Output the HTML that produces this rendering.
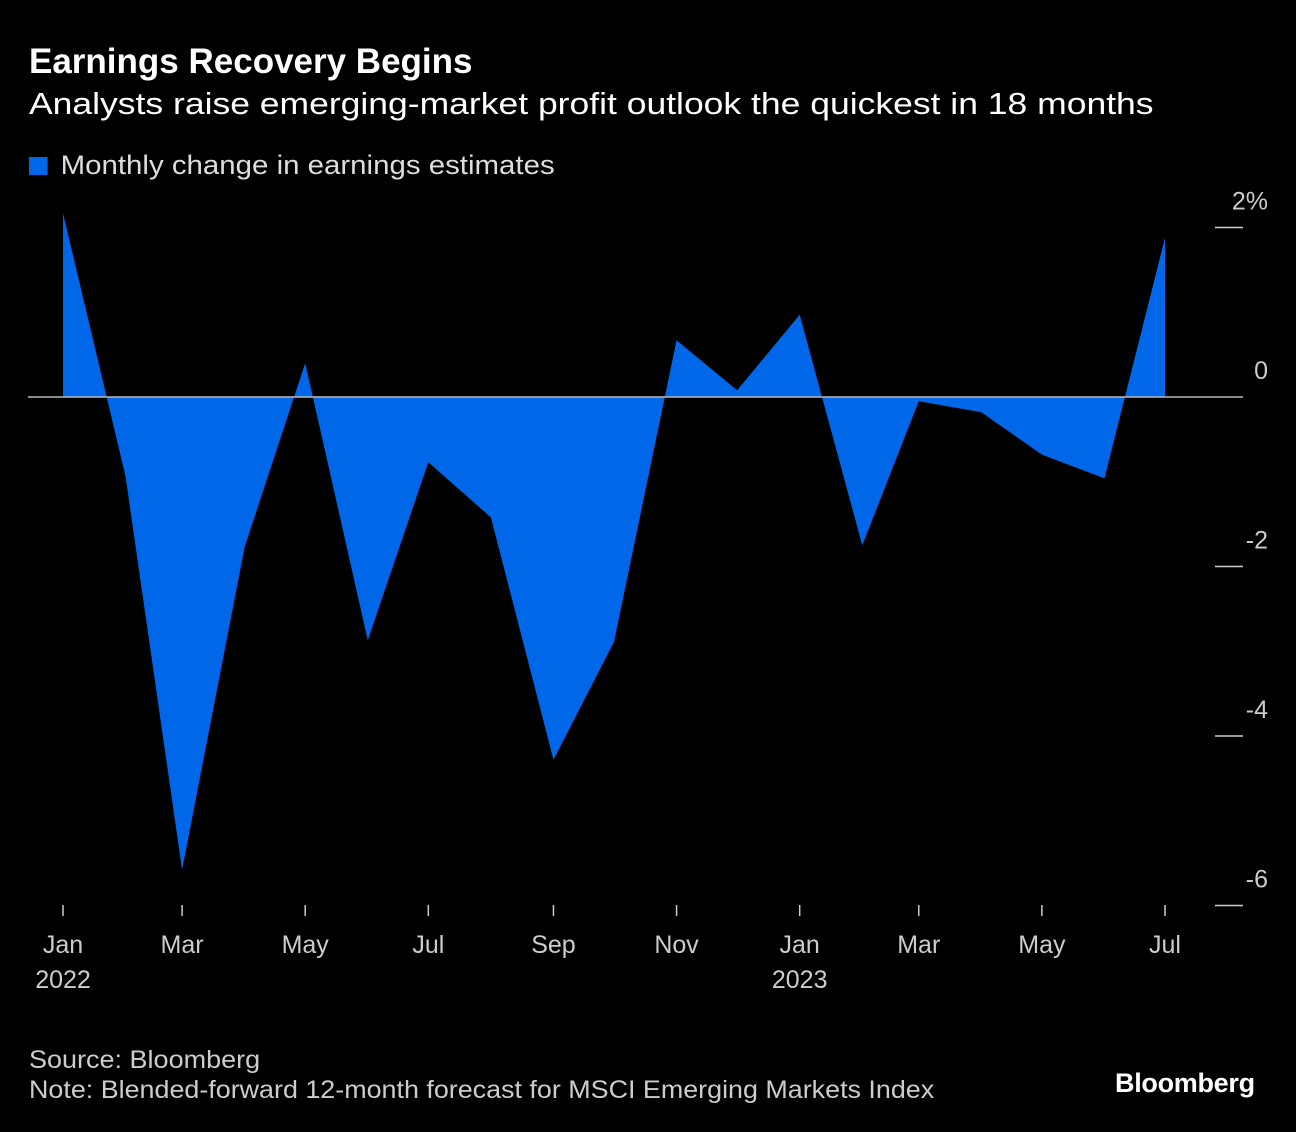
<!DOCTYPE html>
<html><head><meta charset="utf-8"><style>
body{margin:0;background:#000;width:1296px;height:1132px;overflow:hidden;font-family:"Liberation Sans",sans-serif;color:#fff}
.t{position:absolute;left:29px;white-space:nowrap;transform-origin:0 0}
</style></head><body>
<div class="t" style="top:42px;font-size:35px;font-weight:bold">Earnings Recovery Begins</div>
<div class="t" style="top:86px;font-size:31px;transform:scaleX(1.145)">Analysts raise emerging-market profit outlook the quickest in 18 months</div>
<div class="t" style="top:150px;font-size:27px;color:#ddd;transform:scaleX(1.09)"><span style="display:inline-block;width:17px;height:18px;background:#0068E8;margin-right:12px;vertical-align:-1px"></span>Monthly change in earnings estimates</div>
<svg id="c" width="1296" height="1132" style="position:absolute;left:0;top:0"></svg>
<div class="t" style="top:1046px;font-size:25px;color:#ccc;transform:scaleX(1.08)">Source: Bloomberg</div>
<div class="t" style="top:1076px;font-size:25px;color:#ccc;transform:scaleX(1.075)">Note: Blended-forward 12-month forecast for MSCI Emerging Markets Index</div>
<div style="position:absolute;left:1115px;top:1068px;font-size:27px;font-weight:bold;letter-spacing:-0.3px">Bloomberg</div>
<script>
const values=[2.17,-0.94,-5.58,-1.77,0.40,-2.87,-0.77,-1.42,-4.28,-2.89,0.67,0.08,0.97,-1.75,-0.05,-0.18,-0.68,-0.96,1.88];
const yTicks=[2,0,-2,-4,-6];
const yTickLabels=["2%","0","-2","-4","-6"];
const xTickIdx=[0,2,4,6,8,10,12,14,16,18];
const xTickLabels=["Jan","Mar","May","Jul","Sep","Nov","Jan","Mar","May","Jul"];
const yearLabels=[[0,"2022"],[12,"2023"]];
const NS="http://www.w3.org/2000/svg",svg=document.getElementById('c');
const t0=Date.UTC(2022,0,1),t1=Date.UTC(2023,6,1);
const x=i=>63+(Date.UTC(2022,i,1)-t0)/(t1-t0)*(1165-63), y=v=>397-v*84.75;
function mk(t,a){const e=document.createElementNS(NS,t);for(const k in a)e.setAttribute(k,a[k]);svg.appendChild(e);return e;}
let d=`M${x(0)},${y(0)}`;values.forEach((v,i)=>d+=` L${x(i)},${y(v)}`);d+=` L${x(values.length-1)},${y(0)}Z`;
const area=mk('path',{d,fill:'#0068E8'});


yTicks.forEach((v,i)=>{
 if(v===0){const b=mk('line',{x1:28,x2:1243,y1:y(0),y2:y(0),stroke:'#bbb','stroke-width':1.5});
  }
 else{const l=mk('line',{x1:1215,x2:1243,y1:y(v),y2:y(v),stroke:'#ccc','stroke-width':1.5});
  }
 const t=mk('text',{x:1268,y:y(v)-18,'text-anchor':'end',fill:'#ccc','font-size':25,'font-family':'Liberation Sans'});
 t.textContent=yTickLabels[i];
 
});
xTickIdx.forEach((idx,i)=>{
 const l=mk('line',{x1:x(idx),x2:x(idx),y1:905,y2:916,stroke:'#ccc','stroke-width':1.5});
 
 const t=mk('text',{x:x(idx),y:953,'text-anchor':'middle',fill:'#ccc','font-size':25,'font-family':'Liberation Sans'});
 t.textContent=xTickLabels[i];
 
});
yearLabels.forEach(([idx,s])=>{
 const t=mk('text',{x:x(idx),y:988,'text-anchor':'middle',fill:'#ccc','font-size':25,'font-family':'Liberation Sans'});
 t.textContent=s;
 
});
</script>
</body></html>
